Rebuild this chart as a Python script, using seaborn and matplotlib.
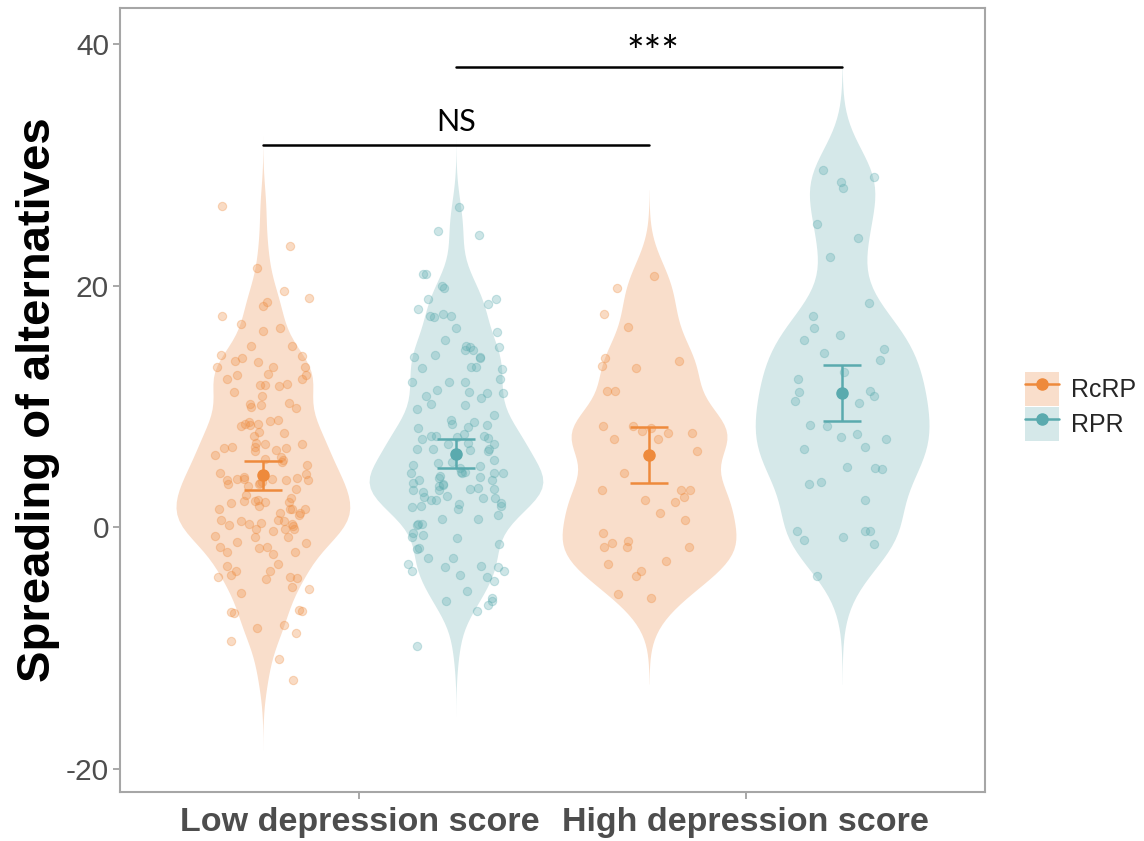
import numpy as np
import pandas as pd
import matplotlib
matplotlib.use("Agg")
import matplotlib.pyplot as plt
import seaborn as sns
from matplotlib.patches import Patch
from matplotlib.lines import Line2D

# ---------------- data ----------------
groups = ["Low depression score", "High depression score"]
conditions = ["RcRP", "RPR"]

low_rcrp = [26.6, 23.3, 21.5, 19.6, 19.0, 18.7, 18.3, 17.5, 16.8, 16.3, 16.5, 15.0, 15.0,
            14.3, 14.0, 14.2, 13.8, 13.7, 13.3, 13.3, 13.3, 12.6, 12.6, 12.7, 12.3, 12.3,
            11.8, 11.9, 11.7, 11.8, 11.2, 10.9, 10.0, 10.1, 10.2, 9.9, 10.3, 8.6, 8.8, 8.4,
            8.6, 8.7, 8.9, 8.5, 7.9, 7.8, 7.6, 6.9, 6.7, 6.6, 6.7, 7.0, 6.4, 6.9, 6.3, 6.0,
            6.6, 5.6, 5.7, 5.4, 5.2, 5.8, 4.5, 4.2, 4.0, 4.0, 3.9, 4.4, 4.1, 3.7, 3.2, 3.9,
            4.0, 3.6, 3.9, 3.8, 3.6, 3.4, 2.7, 2.2, 2.0, 2.2, 2.3, 2.1, 2.4, 2.1, 1.8, 1.5,
            1.2, 1.2, 1.5, 1.5, 1.5, 1.0, 0.5,
            0.4, 0.3, 0.5, 0.2, 0.6, 0.6, 0.3, 0.1, -0.1, -0.3, -0.1, -0.1, -0.8, -0.7, -0.8,
            -1.7, -1.6, -1.6, -2.2, -2.0, -1.3, -2.0, -1.2, -3.0, -3.2, -3.6, -3.6, -3.9,
            -4.1, -4.2, -4.1, -4.3, -4.9, -5.1, -5.4, -7.0, -6.8, -6.9, -7.1, -8.3, -8.1,
            -8.7, -9.4, -10.9, -12.6]

low_rpr = [26.5, 24.5, 24.2, 21.0, 21.0, 20.0, 19.8, 18.9, 18.9, 18.5, 18.1, 17.7, 17.5,
           17.5, 17.4, 16.5, 16.2, 15.5, 14.9, 14.7, 14.0, 14.1, 14.1, 14.9, 15.0, 14.3,
           14.7, 13.3, 13.3, 13.2, 13.1, 12.3, 12.0, 12.0, 12.0, 11.1, 11.1, 11.2, 10.7,
           10.9, 11.4, 10.2, 10.1, 9.8, 9.3, 8.6, 8.9, 8.2, 8.7, 8.5, 8.3,
           7.6, 7.6, 7.3, 7.4, 7.7, 7.6, 7.5, 7.0,
           6.5, 6.5, 6.9, 6.9, 6.3, 6.5, 6.4,
           5.3, 5.1, 4.9, 5.4, 5.6, 5.2,
           4.6, 4.1, 4.5, 4.2, 4.5, 4.5, 4.6, 4.3, 4.5, 3.9,
           3.1, 3.3, 3.5, 3.6, 3.9, 3.4, 3.2, 3.2, 3.1, 3.7,
           2.3, 2.0, 2.6, 2.9, 2.3, 2.4, 2.5, 2.4, 1.8, 1.8, 1.9, 1.7,
           1.0, 0.7, 0.7, 1.5, 0.2, 0.3, 0.3, -0.6, -0.5, -0.8,
           -1.4, -1.8, -0.9, -1.7,
           -2.5, -3.2, -3.3, -2.5, -3.0, -3.6, -3.6, -3.3,
           -3.9, -4.4, -4.1, -5.3, -6.1, -6.4, -6.1, -5.8, -6.9, -9.8]

high_rcrp = [20.8, 19.8, 17.7, 16.6, 13.8, 14.0, 13.4, 13.2, 11.3, 11.3, 8.4, 8.2,
             7.8, 8.0, 7.3, 8.4, 7.3, 7.8, 6.3, 4.5, 3.1, 3.1, 3.1, 2.3, 2.1, 2.5, 1.2,
             0.6, -0.5, -1.6, -1.1, -1.3, -1.6, -1.6, -2.8, -3.0, -4.0, -3.6, -5.5, -5.8]

high_rpr = [29.6, 28.6, 28.1, 29.0, 25.1, 24.0, 22.4, 18.6, 17.5, 15.9, 15.5, 16.5,
            14.8, 14.4, 13.9, 12.9, 12.3, 11.3, 11.2, 10.9, 10.5, 10.3, 8.5, 8.4, 7.3,
            7.5, 7.7, 6.7, 6.5, 4.9, 4.8, 3.6, 5.0, 3.8, 2.3, -0.3, -0.8, -0.3, -0.3,
            -1.0, -1.4, -4.0]

# mean and confidence interval per cell
means = [4.35, 6.1, 6.0, 11.1]
ci_low = [3.1, 4.9, 3.7, 8.8]
ci_high = [5.5, 7.3, 8.35, 13.45]

# significance annotations
sig_labels = ["NS", "***"]
sig_pairs = [(0, 2), (1, 3)]
sig_y = [31.7, 38.1]

# ---------------- build table ----------------
cells = [(groups[0], conditions[0], low_rcrp),
         (groups[0], conditions[1], low_rpr),
         (groups[1], conditions[0], high_rcrp),
         (groups[1], conditions[1], high_rpr)]
rows = []
for g, c, vals in cells:
    for v in vals:
        rows.append({"cell": f"{g}|{c}", "group": g, "condition": c, "value": v})
df = pd.DataFrame(rows)
order = [f"{g}|{c}" for g, c, _ in cells]

colors = {"RcRP": "#EE8A3C", "RPR": "#5AAAAE"}
light = {"RcRP": "#F9DECB", "RPR": "#D5E8E9"}

sns.set_theme(style="white")
plt.rcParams["font.family"] = ["Liberation Sans", "DejaVu Sans"]

fig = plt.figure(figsize=(11.44, 8.41), dpi=100)
ax = fig.add_axes([120 / 1144, 49 / 841, 865 / 1144, 784 / 841])

sns.violinplot(data=df, x="cell", y="value", hue="condition", order=order,
               hue_order=conditions, palette=light, saturation=1, width=0.9,
               density_norm="width", cut=3.2, bw_adjust=0.65, inner=None, linewidth=0,
               dodge=False, legend=False, ax=ax)

np.random.seed(7)
for c in conditions:
    sub = df[df["condition"] == c]
    sns.stripplot(data=sub, x="cell", y="value", order=order, color=colors[c],
                  jitter=0.25, size=6, alpha=0.3, linewidth=0.8,
                  edgecolor=colors[c], ax=ax)

for i, (g, c, _) in enumerate(cells):
    ax.errorbar(i, means[i], yerr=[[means[i] - ci_low[i]], [ci_high[i] - means[i]]],
                fmt="o", color=colors[c], ms=8, elinewidth=1.8, capsize=14,
                capthick=1.8, zorder=5)

for lab, (a, b), y in zip(sig_labels, sig_pairs, sig_y):
    ax.plot([a, b], [y, y], color="black", lw=1.8, zorder=6)
    if lab == "NS":
        ax.text((a + b) / 2, y + 0.7, lab, ha="center", va="bottom", fontsize=22,
                family=["Lato", "DejaVu Sans"], color="black", zorder=6)
    else:
        ax.text((a + b) / 2 + 0.02, y - 0.45, lab, ha="center", va="bottom",
                fontsize=30, family=["Lato", "DejaVu Sans"], color="black", zorder=6)

ax.set_xlim(-0.74, 3.74)
ax.set_ylim(-21.9, 43.0)
ax.set_yticks([-20, 0, 20, 40])
ax.set_yticklabels(["-20", "0", "20", "40"], fontsize=21.5, color="#4D4D4D")
ax.set_xticks([0.5, 2.5])
ax.set_xticklabels(groups, fontsize=24.5, fontweight="bold", color="#4D4D4D")
ax.tick_params(axis="both", length=5, width=1.2, color="#9A9A9A", direction="out",
               bottom=True, left=True)
ax.tick_params(axis="x", pad=6)
ax.tick_params(axis="y", pad=3)
ax.set_xlabel("")
ax.set_ylabel("Spreading of alternatives", fontsize=34, fontweight="bold",
              color="black", labelpad=4)
for s in ax.spines.values():
    s.set_visible(True)
    s.set_color("#A6A6A6")
    s.set_linewidth(1.5)

handles = [(Patch(facecolor=light[c], edgecolor="none"),
            Line2D([], [], color=colors[c], marker="o", ms=8, lw=1.8))
           for c in conditions]
fig.legend(handles, conditions, loc="center left",
           bbox_to_anchor=(1015 / 1144, 0.517), frameon=False, fontsize=18,
           handlelength=1.35, handleheight=1.7, handletextpad=0.5,
           labelspacing=0.05, borderaxespad=0)

fig.savefig("out.png", dpi=100)
